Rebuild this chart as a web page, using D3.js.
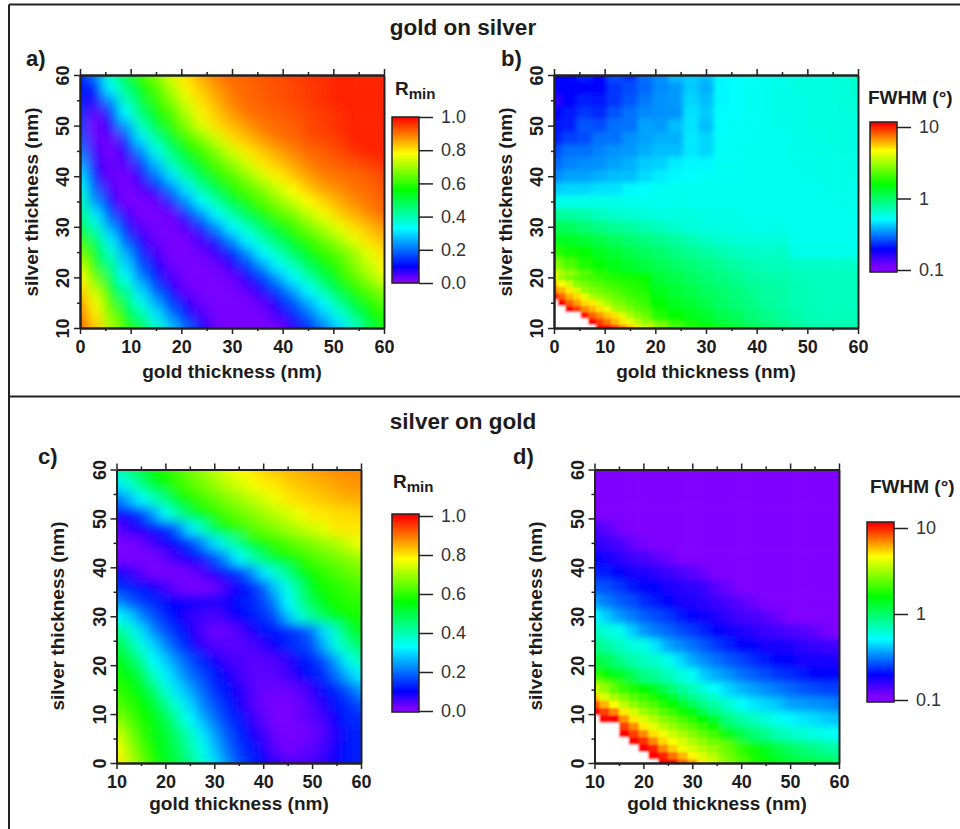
<!DOCTYPE html>
<html>
<head>
<meta charset="utf-8">
<script src="https://cdn.jsdelivr.net/npm/d3@7"></script>
<style>
  body { margin: 0; background: #fff; }
  text { font-family: "Liberation Sans", Arial, sans-serif; fill: #1c1c1c; }
</style>
</head>
<body>
<div id="chart"></div>
<script>
// grid positions (nm)
var goldWide = [0,3,6,9,12,15,18,21,24,27,30,33,36,39,42,45,48,51,54,57,60];
var silverTop = [60,57.5,55,52.5,50,47.5,45,42.5,40,37.5,35,32.5,30,27.5,25,22.5,20,17.5,15,12.5,10];
var goldNarrow = [10,12.5,15,17.5,20,22.5,25,27.5,30,32.5,35,37.5,40,42.5,45,47.5,50,52.5,55,57.5,60];
var silverBottom = [60,57,54,51,48,45,42,39,36,33,30,27,24,21,18,15,12,9,6,3,0];

// a) gold on silver, Rmin in percent, one row per silverTop value
var rminA = [
  [12,21,39,51,60,67,75,81,86,90,91,92,93,94,95,96,96,97,97,97,97],
  [12,13,33,45,56,62,71,79,83,87,90,91,92,93,94,95,96,97,97,97,97],
  [13, 8,23,39,51,60,67,75,81,85,89,91,92,93,94,95,96,97,97,97,97],
  [14, 4,14,33,46,56,62,71,79,83,87,90,91,92,93,94,95,96,97,97,97],
  [15, 2, 8,24,39,51,60,67,75,81,84,87,90,91,92,94,95,96,97,97,97],
  [17, 3, 3,15,31,42,53,61,67,74,81,84,87,90,91,93,94,95,97,97,97],
  [20, 5, 2, 8,22,35,46,56,61,67,74,80,83,86,89,91,92,94,96,97,97],
  [25, 7, 3, 4,15,27,39,49,57,63,68,74,80,83,86,89,91,92,93,95,96],
  [30,11, 3, 2, 8,20,30,41,50,58,63,68,74,79,83,86,89,90,91,92,94],
  [35,18, 5, 2, 4,11,21,31,42,51,58,63,67,73,78,83,86,88,90,91,93],
  [40,23,10, 2, 2, 3,13,23,33,42,52,58,63,68,73,78,82,85,88,90,92],
  [45,31,17, 6, 2, 2, 3,13,23,33,41,50,57,62,66,72,77,82,85,88,91],
  [53,38,24,12, 4, 2, 2, 5,13,23,33,40,48,55,60,66,71,76,81,84,87],
  [60,47,31,17, 8, 3, 2, 2, 6,13,23,33,40,48,55,60,65,70,76,81,84],
  [66,53,38,25,13, 5, 2, 2, 3, 7,13,23,33,40,48,55,60,64,69,76,81],
  [72,58,43,29,17, 9, 3, 2, 2, 3, 8,15,24,33,40,49,56,60,67,73,79],
  [78,65,48,34,22,12, 5, 2, 2, 2, 3, 9,15,24,33,41,50,57,63,69,75],
  [82,72,55,42,29,18,10, 3, 2, 2, 2, 4, 9,16,24,33,42,51,58,63,68],
  [87,77,62,48,35,25,15, 8, 3, 2, 2, 2, 4,10,17,25,33,43,52,58,63],
  [90,80,67,55,43,31,21,12, 5, 2, 2, 2, 2, 6,12,19,27,35,45,55,59],
  [92,83,71,60,50,39,28,19,10, 3, 2, 2, 2, 2, 7,13,21,28,37,49,57]
];

// b) gold on silver, FWHM in degrees, null = no resonance
var fwhmB = [
  [.2,.19,.22,.2,.26,.23,.3,.33,.4,.42,.4,.5,.52,.54,.56,.56,.58,.58,.58,.6,.66],
  [.2,.19,.2,.19,.24,.26,.29,.33,.35,.42,.38,.5,.52,.54,.55,.56,.58,.58,.58,.6,.64],
  [.16,.2,.22,.21,.24,.27,.31,.34,.35,.44,.4,.5,.52,.54,.55,.56,.57,.58,.58,.6,.62],
  [.2,.21,.24,.23,.27,.3,.33,.34,.34,.46,.42,.52,.52,.54,.55,.56,.57,.58,.58,.59,.6],
  [.21,.22,.27,.26,.3,.3,.36,.35,.4,.46,.4,.52,.53,.54,.55,.56,.57,.58,.58,.58,.58],
  [.22,.25,.26,.3,.3,.34,.36,.38,.38,.47,.44,.53,.54,.54,.55,.55,.56,.57,.58,.58,.58],
  [.26,.3,.3,.32,.34,.35,.38,.4,.4,.47,.44,.53,.54,.55,.55,.55,.56,.57,.57,.58,.58],
  [.29,.32,.33,.34,.36,.38,.42,.43,.48,.5,.5,.54,.54,.55,.55,.55,.56,.56,.57,.57,.57],
  [.33,.36,.36,.38,.4,.4,.45,.48,.5,.52,.53,.54,.54,.55,.55,.55,.55,.56,.57,.57,.57],
  [.42,.44,.44,.46,.46,.5,.52,.54,.55,.55,.55,.55,.55,.55,.55,.55,.55,.55,.56,.56,.56],
  [.56,.56,.56,.56,.56,.55,.55,.55,.55,.55,.55,.55,.55,.55,.55,.55,.55,.55,.55,.56,.56],
  [.8,.78,.74,.68,.64,.62,.6,.58,.58,.58,.57,.56,.56,.55,.55,.55,.55,.55,.55,.55,.55],
  [1.1,1.05,.96,.88,.82,.78,.72,.68,.64,.6,.58,.58,.57,.56,.56,.56,.55,.55,.55,.55,.55],
  [1.4,1.35,1.25,1.15,1.05,.98,.9,.84,.78,.72,.66,.63,.61,.6,.6,.6,.55,.55,.55,.55,.55],
  [1.9,1.7,1.55,1.4,1.28,1.15,1.05,.98,.9,.84,.78,.73,.69,.66,.65,.66,.56,.56,.56,.56,.56],
  [2.8,2.2,1.8,1.6,1.45,1.32,1.2,1.1,1.02,.95,.88,.82,.76,.72,.7,.7,.66,.66,.66,.66,.66],
  [4.2,3.2,2.4,1.9,1.65,1.5,1.35,1.25,1.15,1.05,.97,.9,.84,.78,.75,.74,.7,.68,.68,.68,.68],
  [8,5.2,3.6,2.6,2,1.7,1.5,1.4,1.28,1.15,1.05,.98,.92,.84,.78,.76,.72,.7,.68,.68,.68],
  [null,10,6,3.6,2.6,2,1.7,1.55,1.4,1.28,1.15,1.02,.95,.88,.8,.76,.72,.7,.68,.68,.68],
  [null,null,12,7,4.4,3,2.2,1.8,1.6,1.45,1.3,1.15,1.05,.95,.87,.8,.74,.71,.7,.7,.7],
  [null,null,null,13,8.5,6,4,2.8,2.1,1.8,1.6,1.35,1.2,1.05,.95,.88,.78,.74,.72,.72,.72]
];

// finer reading of the bottom left corner of b
var cornerGoldB = [0,1.5,3,4.5,6,7.5,9,10.5,12,13.5,15,16.5,18];
var cornerSilverB = [20,18.75,17.5,16.25,15,13.75,12.5,11.25,10];
var cornerB = [
  [4.3,3,2.7,2.4,2.2,2.05,1.95,1.85,1.8,1.75,1.7,1.65,1.6],
  [5.7,4.7,3.8,2.8,2.6,2.4,2.25,2.1,2,1.9,1.85,1.8,1.7],
  [7,6,5,3.9,3,2.75,2.55,2.35,2.2,2.05,1.95,1.85,1.75],
  [12,8,6,5.3,4.3,3.3,3,2.7,2.5,2.3,2.1,2,1.9],
  [null,12,8,6.5,5.3,5,3.9,3.3,2.8,2.6,2.35,2.15,2],
  [null,null,11.5,9,7,6,5.2,4.3,3.3,3,2.7,2.4,2.2],
  [null,null,null,null,10.5,8,6.8,5.7,5.2,4.1,3.3,2.8,2.5],
  [null,null,null,null,null,11.5,9,7.3,6,5.1,4.3,3.5,2.9],
  [null,null,null,null,null,null,12,11,9,7,5.8,5,3.8]
];

// c) silver on gold, Rmin in percent, one row per silverBottom value
var rminC = [
  [40,45,50,55,58,62,66,69,72,75,78,80,82,83,84,85,86,87,88,88,89],
  [31,37,44,53,57,60,63,66,69,72,74,77,79,80,82,83,84,85,86,87,87],
  [20,26,33,39,45,55,58,61,64,67,69,72,74,77,80,81,82,83,84,85,85],
  [11,11,15,24,34,42,50,56,59,62,65,67,70,72,74,77,80,80,81,81,82],
  [ 4, 7, 9,11,13,20,31,39,50,57,60,63,65,67,70,72,74,76,80,80,80],
  [ 2, 2, 3, 6, 9,11,15,22,30,38,44,54,57,60,62,65,67,69,71,74,77],
  [ 2, 2, 2, 2, 4, 7,10,12,17,24,33,40,47,54,57,59,62,64,66,68,70],
  [10, 7, 4, 2, 2, 2, 3, 5, 9,12,15,22,31,38,44,54,57,60,62,64,66],
  [14,13,11, 9, 6, 3, 2, 2, 3, 6,10,13,18,28,36,45,55,57,59,61,62],
  [22,18,15,13,11,10, 9, 8, 8, 9,11,13,16,22,33,42,50,56,58,59,60],
  [33,29,22,17,13,10, 7, 6, 5, 7,10,12,14,17,27,36,43,49,55,57,58],
  [45,38,30,22,17,13, 9, 5, 3, 3, 5, 8,11,12,13,15,20,30,39,50,56],
  [52,44,36,29,22,16,11, 7, 5, 4, 4, 5, 7,10,13,15,17,26,36,42,48],
  [55,50,43,33,28,22,17,13, 9, 6, 5, 4, 4, 5, 7,11,13,17,25,35,40],
  [57,55,50,39,32,26,20,16,12, 9, 6, 4, 4, 4, 6, 9,12,14,20,27,32],
  [60,57,54,47,37,30,25,19,14,11, 8, 5, 3, 3, 3, 4, 7,11,13,18,24],
  [63,60,56,53,44,36,29,22,17,13, 9, 5, 3, 2, 2, 3, 5, 8,12,14,17],
  [68,63,58,55,50,41,33,26,20,15,12, 7, 4, 2, 2, 3, 4, 6,10,13,14],
  [74,67,60,55,52,46,39,31,24,18,13, 9, 6, 3, 2, 2, 3, 5, 8,12,13],
  [78,70,63,56,53,48,41,35,27,20,15,12, 8, 4, 2, 3, 4, 6, 9,12,13],
  [80,73,66,59,54,50,44,37,30,23,17,13,10, 7, 5, 5, 5, 7, 9,12,13]
];

// d) silver on gold, FWHM in degrees, null = no resonance
var fwhmD = [
  [.1,.1,.1,.1,.1,.1,.1,.1,.1,.1,.1,.1,.1,.1,.1,.1,.1,.1,.1,.1,.1],
  [.1,.1,.1,.1,.1,.1,.1,.1,.1,.1,.1,.1,.1,.1,.1,.1,.1,.1,.1,.1,.1],
  [.1,.1,.1,.1,.1,.1,.1,.1,.1,.1,.1,.1,.1,.1,.1,.1,.1,.1,.1,.1,.1],
  [.11,.1,.1,.1,.1,.1,.1,.1,.1,.1,.1,.1,.1,.1,.1,.1,.1,.1,.1,.1,.1],
  [.14,.13,.115,.1,.1,.1,.1,.1,.1,.1,.1,.1,.1,.1,.1,.1,.1,.1,.1,.1,.1],
  [.16,.15,.14,.125,.115,.1,.1,.1,.1,.1,.1,.1,.1,.1,.1,.1,.1,.1,.1,.1,.1],
  [.19,.18,.165,.15,.14,.13,.12,.1,.1,.1,.1,.1,.1,.1,.1,.1,.1,.1,.1,.1,.1],
  [.22,.21,.19,.18,.17,.16,.15,.14,.13,.12,.1,.1,.1,.1,.1,.1,.1,.1,.1,.1,.1],
  [.27,.26,.24,.21,.2,.19,.175,.165,.16,.15,.13,.12,.1,.1,.1,.1,.1,.1,.1,.1,.1],
  [.35,.31,.28,.26,.23,.21,.195,.18,.17,.16,.15,.14,.13,.12,.11,.1,.1,.1,.1,.1,.1],
  [.5,.42,.35,.31,.28,.26,.24,.21,.2,.185,.17,.155,.145,.14,.13,.12,.11,.1,.1,.1,.1],
  [.67,.6,.55,.43,.35,.31,.29,.26,.24,.22,.2,.185,.17,.16,.15,.145,.14,.135,.125,.115,.1],
  [.9,.77,.68,.6,.57,.46,.37,.33,.3,.27,.24,.22,.2,.19,.18,.175,.17,.16,.155,.15,.145],
  [1.25,1.1,.9,.76,.68,.64,.55,.45,.37,.33,.3,.27,.25,.23,.21,.2,.19,.18,.18,.175,.17],
  [1.9,1.6,1.4,1.15,.9,.8,.7,.6,.53,.42,.37,.34,.3,.28,.26,.24,.23,.21,.2,.2,.19],
  [3.8,2.8,2.1,1.8,1.6,1.35,1,.8,.7,.58,.5,.44,.39,.36,.33,.31,.29,.27,.26,.25,.25],
  [8,5.3,3.6,3,2.6,2.3,1.7,1.35,1.15,.77,.72,.62,.52,.47,.44,.41,.36,.35,.34,.33,.31],
  [null,null,8.5,5.5,4.2,3.4,2.8,2.2,1.9,1.5,1.15,.9,.76,.68,.6,.54,.5,.47,.45,.42,.41],
  [null,null,null,9.5,7.5,5.4,4.3,3.5,3,2.4,1.9,1.45,1.15,.98,.84,.73,.66,.62,.58,.55,.52],
  [null,null,null,null,11,9.5,7.8,5.5,4.2,3.5,2.8,2.4,1.9,1.7,1.45,1.2,1.05,.95,.88,.8,.76],
  [null,null,null,null,null,null,12,9,6.5,4.5,3.3,2.7,2.2,1.8,1.55,1.4,1.3,1.2,1.15,1.1,1]
];

// finer reading of the bottom left corner of d
var cornerGoldD = [10,12,14,16,18,20,22,24,26,28,30,32,34];
var cornerSilverD = [15,13.5,12,10.5,9,7.5,6,4.5,3,1.5,0];
var cornerD = [
  [3.8,3,2.4,2,1.8,1.6,1.4,1.15,.95,.8,.7,.6,.53],
  [5.6,4,3.2,2.7,2.3,2,1.8,1.5,1.25,1,.85,.75,.66],
  [8.5,6,4.6,3.5,2.9,2.5,2.2,1.85,1.6,1.3,1.1,.9,.78],
  [12,9,7,5,3.9,3.1,2.7,2.3,2,1.7,1.45,1.15,.92],
  [null,13,11,6.8,5,4,3.4,2.8,2.5,2.1,1.85,1.55,1.3],
  [null,null,null,9,7,5,4.2,3.5,3,2.6,2.3,2,1.7],
  [null,null,null,13,9,7,5.2,4.4,3.7,3.2,2.8,2.4,2.1],
  [null,null,null,null,12,9.5,7,5.3,4.5,3.9,3.3,2.9,2.5],
  [null,null,null,null,null,13,10,7,5.5,4.4,3.9,3.4,3],
  [null,null,null,null,null,null,13,10,7.5,6,4.8,4,3.5],
  [null,null,null,null,null,null,null,13,11,8,6.5,5,3.9]
];

var rminTicks = [0, 0.2, 0.4, 0.6, 0.8, 1];
var fwhmTicks = [0.1, 1, 10];

// rainbow, positions are fractions of the bar
var rainbowColors = ["#8000ff", "#8000ff", "#0000ff", "#00ffff", "#00ff00", "#ffff00", "#ff0000"];
var rminStops = [0, 0.015, 0.10, 0.33, 0.56, 0.78, 1];
var fwhmStops = [0, 0.03, 0.15, 0.35, 0.585, 0.81, 0.99];

var svg = d3.select("#chart").append("svg")
    .attr("width", 960)
    .attr("height", 829)
    .style("display", "block");

var defs = svg.append("defs");

// frame, there is no right or bottom line in the picture
var frame = svg.append("g").attr("stroke", "#222").attr("stroke-width", 2);
frame.append("line").attr("x1", 9).attr("x2", 960).attr("y1", 4.5).attr("y2", 4.5);
frame.append("line").attr("x1", 9).attr("x2", 9).attr("y1", 4.5).attr("y2", 829);
frame.append("line").attr("x1", 9).attr("x2", 960).attr("y1", 396.5).attr("y2", 396.5);

svg.append("text").attr("x", 463).attr("y", 35).attr("text-anchor", "middle")
    .style("font-weight", "bold").style("font-size", "22.5px").text("gold on silver");
svg.append("text").attr("x", 463).attr("y", 429).attr("text-anchor", "middle")
    .style("font-weight", "bold").style("font-size", "22.5px").text("silver on gold");

function flatten(values) {
  var cells = [];
  values.forEach(function(row, i) {
    row.forEach(function(v, j) {
      cells.push({col: j, row: i, value: v});
    });
  });
  return cells;
}

function drawPanel(p) {
  var x = d3.scaleLinear().domain(p.xDomain).range([p.left, p.right]);
  var y = d3.scaleLinear().domain(p.yDomain).range([p.bottom, p.top]);
  var xStep = p.xs[1] - p.xs[0];
  var yStep = Math.abs(p.ys[1] - p.ys[0]);

  var id = "panel-" + p.name;
  defs.append("clipPath").attr("id", "clip-" + id).append("rect")
      .attr("x", p.left).attr("y", p.top)
      .attr("width", p.right - p.left).attr("height", p.bottom - p.top);
  defs.append("filter").attr("id", "blur-" + id)
      .attr("filterUnits", "userSpaceOnUse")
      .attr("x", p.left - 60).attr("y", p.top - 60)
      .attr("width", p.right - p.left + 120).attr("height", p.bottom - p.top + 120)
    .append("feGaussianBlur").attr("stdDeviation", p.blur);
  defs.append("filter").attr("id", "soft-" + id)
      .attr("filterUnits", "userSpaceOnUse")
      .attr("x", p.left - 60).attr("y", p.top - 60)
      .attr("width", p.right - p.left + 120).attr("height", p.bottom - p.top + 120)
    .append("feGaussianBlur").attr("stdDeviation", 0.8);

  // edge cells run on past the plot so the blur does not fade at the border
  var n = p.xs.length, m = p.ys.length;
  var plot = svg.append("g").attr("clip-path", "url(#clip-" + id + ")");
  plot.append("g").attr("filter", "url(#blur-" + id + ")")
    .selectAll("rect").data(flatten(p.values).filter(function(d) { return d.value !== null; }))
    .enter().append("rect")
      .attr("x", function(d) { return x(p.xs[d.col] - xStep / 2) - (d.col == 0 ? 30 : 0); })
      .attr("width", function(d) { return x(xStep) - x(0) + (d.col == 0 || d.col == n - 1 ? 30 : 0) + 0.5; })
      .attr("y", function(d) { return y(p.ys[d.row] + yStep / 2) - (d.row == 0 ? 30 : 0); })
      .attr("height", function(d) { return y(0) - y(yStep) + (d.row == 0 || d.row == m - 1 ? 30 : 0) + 0.5; })
      .style("fill", function(d) { return p.color(d.value); });

  // corner patch with its own finer cells, empty cells paint white
  if (p.corner) {
    var cx = p.corner.xs, cy = p.corner.ys;
    var cxStep = cx[1] - cx[0], cyStep = Math.abs(cy[1] - cy[0]);
    plot.append("g").attr("filter", "url(#soft-" + id + ")")
      .selectAll("rect").data(flatten(p.corner.values)).enter().append("rect")
        .attr("x", function(d) { return x(cx[d.col] - cxStep / 2) - (d.col == 0 ? 6 : 0); })
        .attr("width", function(d) { return x(cxStep) - x(0) + (d.col == 0 ? 6 : 0) + 0.5; })
        .attr("y", function(d) { return y(cy[d.row] + cyStep / 2); })
        .attr("height", function(d) { return y(0) - y(cyStep) + (d.row == cy.length - 1 ? 6 : 0) + 0.5; })
        .style("fill", function(d) { return d.value === null ? "#fff" : p.color(d.value); });
  }

  // axes
  var ax = svg.append("g").attr("class", "axes");
  var xMajor = d3.range(p.xDomain[0], p.xDomain[1] + 1, 10);
  var yMajor = d3.range(p.yDomain[0], p.yDomain[1] + 1, 10);
  var xMinor = xMajor.slice(1).map(function(d) { return d - 5; });
  var yMinor = yMajor.slice(1).map(function(d) { return d - 5; });

  function addAxis(axis, tx, ty, labelled) {
    var g = ax.append("g").attr("transform", "translate(" + tx + "," + ty + ")").call(axis);
    g.selectAll("line,path").attr("stroke", "#222").attr("stroke-width", 1.5);
    g.select(".domain").attr("stroke-width", 2);
    if (!labelled) g.selectAll("text").remove();
    return g;
  }

  addAxis(d3.axisTop(x).tickValues(xMinor).tickSize(3).tickSizeOuter(0), 0, p.top, false);
  addAxis(d3.axisTop(x).tickValues(xMajor).tickSize(6).tickSizeOuter(0), 0, p.top, false);
  addAxis(d3.axisRight(y).tickValues([]).tickSize(0).tickSizeOuter(0), p.right, 0, false);
  addAxis(d3.axisBottom(x).tickValues(xMinor).tickSize(3).tickSizeOuter(0), 0, p.bottom, false);
  addAxis(d3.axisLeft(y).tickValues(yMinor).tickSize(3).tickSizeOuter(0), p.left, 0, false);

  var xAxisG = addAxis(d3.axisBottom(x).tickValues(xMajor).tickSize(6).tickSizeOuter(0), 0, p.bottom, true);
  xAxisG.attr("font-family", null).attr("font-size", null);
  xAxisG.selectAll("text")
      .style("font-size", "18px").style("font-weight", "bold")
      .attr("y", 25).attr("dy", 0);

  var yAxisG = addAxis(d3.axisLeft(y).tickValues(yMajor).tickSize(6).tickSizeOuter(0), p.left, 0, true);
  yAxisG.attr("font-family", null).attr("font-size", null);
  yAxisG.selectAll("text")
      .style("font-size", "18px").style("font-weight", "bold")
      .attr("text-anchor", "middle")
      .attr("x", 0).attr("dy", 0)
      .attr("transform", "translate(" + p.yTickX + ",0) rotate(-90)");

  // axis titles
  svg.append("text").attr("x", p.xLabelX).attr("y", p.xLabelY).attr("text-anchor", "middle")
      .style("font-weight", "bold").style("font-size", "19px").text("gold thickness (nm)");
  svg.append("text").attr("text-anchor", "middle")
      .attr("transform", "translate(" + p.yLabelX + "," + p.yLabelY + ") rotate(-90)")
      .style("font-weight", "bold").style("font-size", "19px").text("silver thickness (nm)");

  svg.append("text").attr("x", p.letterX).attr("y", p.letterY)
      .style("font-weight", "bold").style("font-size", "22px").text(p.name + ")");

  // colour bar
  var barScale = p.barScale;
  var bar = svg.append("g");
  bar.selectAll("rect").data(d3.range(p.barTop, p.barBottom)).enter().append("rect")
      .attr("x", p.barLeft).attr("y", function(d) { return d; })
      .attr("width", p.barWidth).attr("height", 1.2)
      .style("fill", function(d) { return p.color(barScale.invert(d + 0.5)); });
  bar.append("rect")
      .attr("x", p.barLeft).attr("y", p.barTop)
      .attr("width", p.barWidth).attr("height", p.barBottom - p.barTop)
      .style("fill", "none").style("stroke", "#222").style("stroke-width", 1.5);

  var barAxis = bar.append("g")
      .attr("transform", "translate(" + (p.barLeft + p.barWidth) + ",0)")
      .call(d3.axisRight(barScale).tickValues(p.barTicks).tickSize(14).tickPadding(8)
        .tickSizeOuter(0).tickFormat(p.barFormat));
  barAxis.attr("font-family", null).attr("font-size", null);
  barAxis.select(".domain").remove();
  barAxis.selectAll("line").attr("stroke", "#222").attr("stroke-width", 1.5);
  barAxis.selectAll("text").style("font-size", "18px").style("fill", "#333");

  var title = svg.append("text").attr("x", p.barTitleX).attr("y", p.barTitleY)
      .style("font-weight", "bold").style("font-size", "19px");
  if (p.isRmin) {
    title.append("tspan").text("R");
    title.append("tspan").attr("dy", 4).style("font-size", "15px").text("min");
  } else {
    title.text("FWHM (°)");
  }
}

// colour for a fraction of the bar
var rminColor = d3.scaleLinear().domain(rminStops).range(rainbowColors).clamp(true);
var fwhmT = d3.scaleLog().domain([0.095, 11.7]).range([0, 1]).clamp(true);
var fwhmInner = d3.scaleLinear().domain(fwhmStops).range(rainbowColors).clamp(true);
function fwhmColor(v) { return fwhmInner(fwhmT(v)); }

var pct = d3.format(".1f");
var fwhmFormat = function(d) { return d == 0.1 ? "0.1" : String(d); };
function fromPercent(m) { return m.map(function(r) { return r.map(function(v) { return v / 100; }); }); }

drawPanel({name: "a", isRmin: true, values: fromPercent(rminA),
  xs: goldWide, ys: silverTop, xDomain: [0, 60], yDomain: [10, 60],
  left: 80, right: 384, top: 75, bottom: 328, blur: 6, color: rminColor,
  yTickX: -11, xLabelX: 232, xLabelY: 378, yLabelX: 38, yLabelY: 202, letterX: 26, letterY: 66,
  barLeft: 392, barWidth: 27, barTop: 117, barBottom: 283,
  barScale: d3.scaleLinear().domain([0, 1]).range([283, 117]), barTicks: rminTicks, barFormat: pct,
  barTitleX: 395, barTitleY: 95});

drawPanel({name: "b", isRmin: false, values: fwhmB,
  corner: {xs: cornerGoldB, ys: cornerSilverB, values: cornerB},
  xs: goldWide, ys: silverTop, xDomain: [0, 60], yDomain: [10, 60],
  left: 554, right: 858, top: 75, bottom: 328, blur: 2.5, color: fwhmColor,
  yTickX: -11, xLabelX: 706, xLabelY: 378, yLabelX: 512, yLabelY: 202, letterX: 501, letterY: 66,
  barLeft: 870, barWidth: 27, barTop: 122, barBottom: 272,
  barScale: d3.scaleLog().domain([0.1, 10]).range([270, 127]), barTicks: fwhmTicks, barFormat: fwhmFormat,
  barTitleX: 868, barTitleY: 104});

drawPanel({name: "c", isRmin: true, values: fromPercent(rminC),
  xs: goldNarrow, ys: silverBottom, xDomain: [10, 60], yDomain: [0, 60],
  left: 116.5, right: 361, top: 469.5, bottom: 763, blur: 5.5, color: rminColor,
  yTickX: -10.5, xLabelX: 239, xLabelY: 810, yLabelX: 64, yLabelY: 616, letterX: 38, letterY: 464,
  barLeft: 392, barWidth: 27, barTop: 514, barBottom: 712,
  barScale: d3.scaleLinear().domain([0, 1]).range([711, 516]), barTicks: rminTicks, barFormat: pct,
  barTitleX: 393, barTitleY: 488});

drawPanel({name: "d", isRmin: false, values: fwhmD,
  corner: {xs: cornerGoldD, ys: cornerSilverD, values: cornerD},
  xs: goldNarrow, ys: silverBottom, xDomain: [10, 60], yDomain: [0, 60],
  left: 594.5, right: 839, top: 469.5, bottom: 763, blur: 3.5, color: fwhmColor,
  yTickX: -11, xLabelX: 717, xLabelY: 810, yLabelX: 542, yLabelY: 616, letterX: 513, letterY: 464,
  barLeft: 867, barWidth: 27, barTop: 522, barBottom: 702,
  barScale: d3.scaleLog().domain([0.1, 10]).range([700, 528]), barTicks: fwhmTicks, barFormat: fwhmFormat,
  barTitleX: 870, barTitleY: 493});
</script>
</body>
</html>
